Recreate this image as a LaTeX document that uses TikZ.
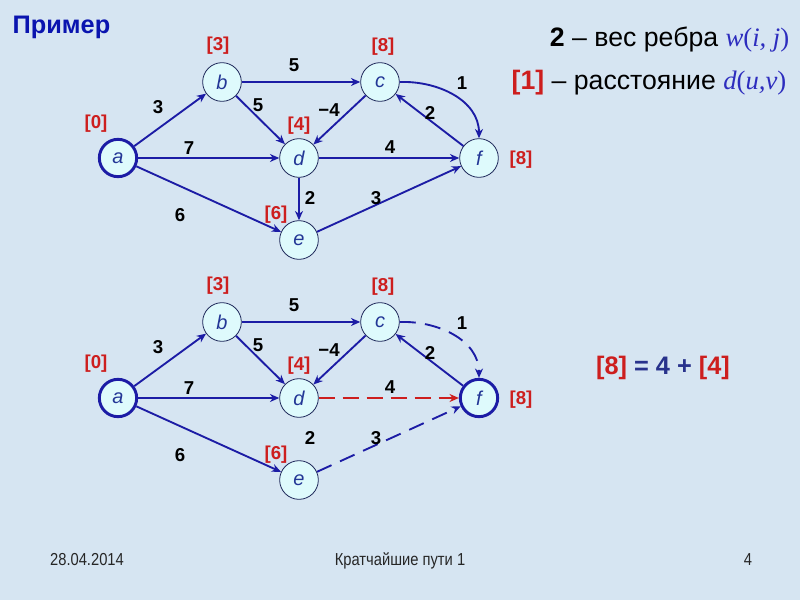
\documentclass[tikz,border=0pt]{standalone}
\usepackage{fontspec}
\setmainfont{Liberation Sans}
\newfontfamily\serifit{Liberation Serif}
\newfontfamily\narrowsans[FakeStretch=0.85]{Liberation Sans}
\usetikzlibrary{arrows.meta}
\definecolor{bg}{RGB}{214,229,242}
\definecolor{edgeblue}{RGB}{28,28,165}
\definecolor{nodefill}{RGB}{222,250,252}
\definecolor{nodeline}{RGB}{30,40,90}
\definecolor{lblred}{RGB}{205,30,30}
\definecolor{titleblue}{RGB}{10,20,175}
\definecolor{letterblue}{RGB}{35,55,150}
\definecolor{formblue}{RGB}{45,45,190}
\definecolor{eqblue}{RGB}{40,50,140}
\begin{document}
\begin{tikzpicture}[x=0.75pt,y=-0.75pt,
  vert/.style={circle,draw=nodeline,line width=0.6pt,fill=nodefill,minimum size=29pt,inner sep=0pt,
    font=\fontsize{15}{15}\selectfont\itshape,text=letterblue},
  startv/.style={vert,draw=edgeblue,line width=2.2pt,minimum size=28pt},
  dist/.style={text=lblred,font=\fontsize{14}{14}\selectfont\bfseries},
  wt/.style={font=\fontsize{14}{14}\selectfont\bfseries},
  arc/.style={draw=edgeblue,line width=1.4pt,-{Stealth[length=7pt,width=6pt]}},
  dasharc/.style={arc,dash pattern=on 12pt off 7pt},
  redarc/.style={arc,draw=lblred,dash pattern=on 12pt off 6pt},
  foot/.style={anchor=base,font=\narrowsans\fontsize{13}{13}\selectfont,text=black!85}
]
\fill[bg] (0,0) rectangle (800,600);
\useasboundingbox (0,0) rectangle (800,600);

% title and legend
\node[anchor=west,text=titleblue,font=\fontsize{19}{19}\selectfont\bfseries] (title) at (8,27) {Пример};
\node[anchor=east,font=\fontsize{20}{20}\selectfont] (leg1) at (794,40)
  {\textbf{2} – вес ребра {\serifit\color{formblue}\textit{w}(\textit{i, j})}};
\node[anchor=east,font=\fontsize{20}{20}\selectfont] (leg2) at (791,83)
  {{\color{lblred}\textbf{[1]}} – расстояние {\serifit\color{formblue}\textit{d}(\textit{u,v})}};

% ===== top graph =====
\node[startv] (a) at (118,158) {a};
\node[vert] (b) at (222,82) {b};
\node[vert] (c) at (380,82) {c};
\node[vert] (d) at (299,158) {d};
\node[vert] (e) at (299,240) {e};
\node[vert] (f) at (479,158) {f};

\draw[arc] (a) -- (b);
\draw[arc] (b) -- (c);
\draw[arc] (b) -- (d);
\draw[arc] (c) -- (d);
\draw[arc] (a) -- (d);
\draw[arc] (d) -- (f);
\draw[arc] (f) -- (c);
\draw[arc] (d) -- (e);
\draw[arc] (a) -- (e);
\draw[arc] (e) -- (f);
\draw[arc] (c.east) to[out=2,in=90] (f.north);

\node[dist] (da) at (96,124) {[0]};
\node[dist] (db) at (218,46) {[3]};
\node[dist] (dc) at (383,47) {[8]};
\node[dist] (dd) at (299,126) {[4]};
\node[dist] (de) at (276,215) {[6]};
\node[dist] (df) at (521,160) {[8]};

\node[wt] (wab) at (158,107) {3};
\node[wt] (wbc) at (294,65) {5};
\node[wt] (wbd) at (258,105) {5};
\node[wt] (wcd) at (329,110) {\char"2212 4};
\node[wt] (wad) at (189,148) {7};
\node[wt] (wdf) at (390,147) {4};
\node[wt] (wcf) at (462,83) {1};
\node[wt] (wfc) at (430,113) {2};
\node[wt] (wde) at (310,198) {2};
\node[wt] (wef) at (376,198) {3};
\node[wt] (wae) at (180,215) {6};

% ===== bottom graph =====
\node[startv] (a2) at (118,398) {a};
\node[vert] (b2) at (222,322) {b};
\node[vert] (c2) at (380,322) {c};
\node[vert] (d2) at (299,398) {d};
\node[vert] (e2) at (299,480) {e};
\node[startv] (f2) at (479,398) {f};

\draw[arc] (a2) -- (b2);
\draw[arc] (b2) -- (c2);
\draw[arc] (b2) -- (d2);
\draw[arc] (c2) -- (d2);
\draw[arc] (a2) -- (d2);
\draw[arc] (f2) -- (c2);
\draw[arc] (a2) -- (e2);
\draw[redarc] (d2) -- (f2);
\draw[dasharc] (e2) -- (f2);
\draw[dasharc] (c2.east) to[out=2,in=90] (f2.north);

\node[dist] (da2) at (96,364) {[0]};
\node[dist] (db2) at (218,286) {[3]};
\node[dist] (dc2) at (383,287) {[8]};
\node[dist] (dd2) at (299,366) {[4]};
\node[dist] (de2) at (276,455) {[6]};
\node[dist] (df2) at (521,400) {[8]};

\node[wt] (wab2) at (158,347) {3};
\node[wt] (wbc2) at (294,305) {5};
\node[wt] (wbd2) at (258,345) {5};
\node[wt] (wcd2) at (329,350) {\char"2212 4};
\node[wt] (wad2) at (189,388) {7};
\node[wt] (wdf2) at (390,387) {4};
\node[wt] (wcf2) at (462,323) {1};
\node[wt] (wfc2) at (430,353) {2};
\node[wt] (wde2) at (310,438) {2};
\node[wt] (wef2) at (376,438) {3};
\node[wt] (wae2) at (180,455) {6};

\node[font=\fontsize{19}{19}\selectfont\bfseries] (eq) at (663,368)
  {{\color{lblred}[8]} {\color{eqblue}= 4 +} {\color{lblred}[4]}};

% footer
\node[foot] (date) at (87,565) {28.04.2014};
\node[foot] (ftitle) at (400,565) {Кратчайшие пути 1};
\node[foot] (pnum) at (748,565) {4};
\end{tikzpicture}
\end{document}
